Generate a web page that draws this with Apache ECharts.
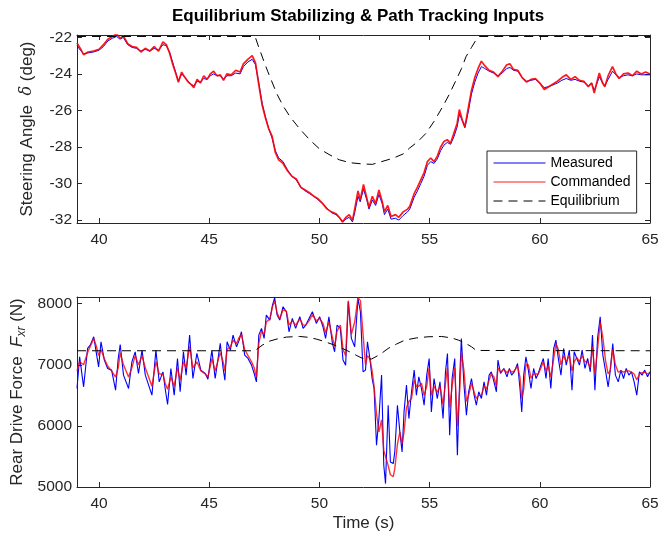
<!DOCTYPE html>
<html><head><meta charset="utf-8">
<script src="https://cdn.jsdelivr.net/npm/echarts@6/dist/echarts.min.js"></script>
<style>html,body{margin:0;padding:0;background:#fff}#c{width:667px;height:538px}</style>
</head><body><div id="c"></div><script>
// ---------- data ----------
const xTicks = [40, 45, 50, 55, 60, 65];
const topTicks = [-32, -30, -28, -26, -24, -22];
const botTicks = [5000, 6000, 7000, 8000];
const seriesNames = ['Measured', 'Commanded', 'Equilibrium'];

const topT = [
39.00,39.15,39.30,39.50,39.75,40.00,40.20,40.40,40.60,40.80,
40.95,41.10,41.30,41.50,41.70,41.90,42.10,42.30,42.50,42.70,
42.90,43.05,43.20,43.35,43.50,43.60,43.75,43.90,44.05,44.20,
44.30,44.45,44.60,44.75,44.90,45.05,45.20,45.35,45.50,45.65,
45.80,46.00,46.20,46.40,46.55,46.75,46.95,47.10,47.25,47.40,
47.55,47.70,47.85,48.00,48.15,48.35,48.55,48.75,48.95,49.15,
49.35,49.55,49.75,49.95,50.15,50.35,50.55,50.75,50.90,51.05,
51.20,51.35,51.50,51.60,51.75,51.85,52.00,52.15,52.25,52.40,
52.55,52.70,52.85,52.95,53.10,53.25,53.45,53.60,53.80,54.00,
54.10,54.30,54.45,54.60,54.75,54.90,55.05,55.20,55.35,55.50,
55.65,55.80,55.95,56.10,56.25,56.35,56.50,56.60,56.75,56.90,
57.05,57.20,57.35,57.50,57.70,57.90,58.10,58.30,58.50,58.65,
58.80,59.00,59.20,59.40,59.60,59.80,60.00,60.20,60.40,60.60,
60.80,61.00,61.20,61.40,61.60,61.80,62.00,62.20,62.35,62.47,
62.60,62.70,62.85,62.95,63.10,63.30,63.45,63.60,63.80,64.00,
64.20,64.40,64.60,64.80,65.00];
const topCommanded = [
-22.30,-22.60,-22.95,-22.80,-22.75,-22.65,-22.40,-22.10,-21.95,-21.80,
-22.05,-21.90,-22.35,-22.50,-22.55,-22.80,-22.60,-22.75,-22.50,-22.75,
-22.25,-22.40,-22.85,-23.50,-24.05,-24.45,-23.90,-24.20,-24.45,-24.60,
-24.75,-24.30,-24.50,-24.10,-24.30,-24.00,-23.85,-24.10,-24.05,-24.35,
-24.00,-24.05,-23.80,-23.90,-23.45,-23.20,-23.00,-23.40,-24.60,-25.70,
-26.40,-27.00,-27.40,-28.30,-28.70,-28.90,-29.30,-29.60,-29.75,-30.20,
-30.35,-30.50,-30.70,-30.85,-31.10,-31.40,-31.55,-31.65,-31.85,-32.10,
-31.85,-31.70,-32.00,-31.40,-30.40,-30.90,-30.05,-30.80,-31.30,-30.70,
-31.10,-30.35,-31.00,-31.55,-31.20,-31.80,-31.70,-31.85,-31.55,-31.40,
-31.25,-30.55,-30.20,-29.80,-29.40,-28.80,-28.60,-28.80,-28.50,-28.00,
-27.70,-27.60,-27.80,-27.25,-26.70,-25.95,-26.60,-26.90,-25.90,-24.90,
-24.20,-23.70,-23.30,-23.55,-23.80,-23.90,-24.15,-23.85,-23.50,-23.45,
-23.75,-23.80,-24.20,-24.45,-24.30,-24.25,-24.50,-24.85,-24.70,-24.55,
-24.40,-24.20,-24.05,-24.30,-24.15,-24.35,-24.40,-24.70,-24.50,-25.05,
-24.40,-23.95,-24.50,-24.70,-24.10,-23.60,-24.00,-24.25,-24.00,-23.95,
-24.10,-23.85,-24.00,-23.90,-24.00];
const topMeasured = [
-22.45,-22.70,-22.90,-22.85,-22.80,-22.70,-22.50,-22.20,-22.05,-21.95,
-22.10,-22.00,-22.40,-22.55,-22.60,-22.75,-22.65,-22.75,-22.60,-22.70,
-22.40,-22.45,-22.80,-23.40,-24.00,-24.40,-24.00,-24.20,-24.40,-24.60,
-24.65,-24.40,-24.45,-24.25,-24.30,-24.10,-24.00,-24.10,-24.10,-24.30,
-24.10,-24.10,-23.95,-24.00,-23.60,-23.35,-23.20,-23.50,-24.50,-25.60,
-26.35,-27.00,-27.50,-28.20,-28.60,-28.80,-29.25,-29.60,-29.80,-30.20,
-30.40,-30.55,-30.70,-30.90,-31.10,-31.35,-31.60,-31.70,-31.85,-32.10,
-31.95,-31.85,-32.10,-31.60,-30.70,-31.00,-30.30,-30.90,-31.40,-30.90,
-31.20,-30.60,-31.10,-31.70,-31.40,-31.95,-31.90,-32.00,-31.75,-31.55,
-31.40,-30.75,-30.40,-30.00,-29.60,-29.00,-28.80,-28.90,-28.65,-28.20,
-27.90,-27.75,-27.85,-27.45,-26.90,-26.20,-26.60,-26.95,-26.10,-25.10,
-24.45,-23.95,-23.60,-23.70,-23.85,-23.95,-24.10,-23.95,-23.70,-23.65,
-23.80,-23.85,-24.20,-24.40,-24.35,-24.30,-24.50,-24.75,-24.70,-24.60,
-24.50,-24.35,-24.25,-24.35,-24.30,-24.40,-24.45,-24.65,-24.50,-24.90,
-24.50,-24.15,-24.50,-24.65,-24.30,-23.85,-24.05,-24.20,-24.10,-24.05,
-24.10,-24.00,-24.05,-24.05,-24.05];
const topEqT = [39, 47.08, 47.25, 47.46, 47.65, 48.06, 48.35, 48.67, 49.1, 49.57, 50.0, 50.48, 50.9, 51.38, 51.99, 52.4, 53.33, 53.8, 54.08, 54.45, 54.83, 55.2, 55.59, 55.9, 56.2, 56.45, 56.65, 56.9, 57.1, 57.25, 65];
const topEq = [-21.95, -21.95, -22.55, -23.24, -23.85, -25.07, -25.75, -26.35, -27.0, -27.62, -28.1, -28.44, -28.7, -28.86, -28.93, -28.95, -28.62, -28.38, -28.07, -27.72, -27.26, -26.6, -25.8, -25.1, -24.34, -23.7, -23.06, -22.55, -22.15, -21.95, -21.95];

const botT = [
39.00,39.12,39.30,39.48,39.60,39.76,39.88,39.98,40.09,40.24,
40.39,40.57,40.75,40.87,40.96,41.11,41.34,41.49,41.64,41.79,
41.95,42.10,42.25,42.40,42.58,42.73,42.90,43.00,43.11,43.26,
43.41,43.56,43.68,43.83,43.95,44.11,44.26,44.44,44.62,44.82,
44.94,45.12,45.27,45.50,45.63,45.71,45.81,45.96,46.08,46.24,
46.36,46.46,46.61,46.76,46.92,47.04,47.14,47.25,47.37,47.49,
47.59,47.75,47.87,47.97,48.08,48.20,48.35,48.50,48.62,48.77,
48.92,49.11,49.26,49.38,49.53,49.68,49.86,50.01,50.16,50.28,
50.43,50.59,50.69,50.80,50.95,51.07,51.19,51.31,51.45,51.60,
51.75,51.86,51.98,52.09,52.18,52.29,52.39,52.48,52.59,52.70,
52.82,52.92,53.00,53.12,53.22,53.35,53.42,53.54,53.65,53.75,
53.84,53.95,54.06,54.18,54.30,54.40,54.51,54.63,54.75,54.87,
54.98,55.08,55.20,55.35,55.47,55.61,55.72,55.81,55.91,56.02,
56.14,56.26,56.37,56.44,56.56,56.67,56.77,56.90,57.02,57.12,
57.23,57.35,57.47,57.58,57.70,57.80,57.92,58.03,58.10,58.22,
58.37,58.51,58.62,58.72,58.84,58.99,59.10,59.18,59.27,59.37,
59.48,59.60,59.72,59.83,59.93,60.05,60.16,60.28,60.38,60.50,
60.63,60.73,60.84,60.96,61.08,61.20,61.34,61.46,61.56,61.68,
61.80,61.92,62.05,62.17,62.29,62.39,62.50,62.62,62.74,62.86,
62.99,63.10,63.19,63.31,63.43,63.56,63.68,63.80,63.92,64.04,
64.16,64.28,64.40,64.52,64.64,64.76,64.89,65.00];
const botMeasured = [
6612,7131,6640,7268,7322,7459,7186,6967,7377,7077,
6940,6913,6585,7104,7333,6831,6612,7049,7213,6858,
7240,6831,6667,6503,7240,6721,6885,6612,6350,6940,
6503,7104,6558,7213,6831,7486,6776,7186,6913,6858,
6765,7240,6776,7350,6940,6749,7377,7240,7486,7295,
7404,7541,7159,7104,6995,6858,6721,7486,7596,7432,
7814,7732,7978,8098,7814,7732,7951,7869,7541,7759,
7596,7787,7596,7650,7759,7869,7678,7787,7623,7432,
7787,7350,7213,7650,7596,7077,6995,8033,7432,7295,
8087,7869,6885,6913,7377,7104,6776,6612,5684,6120,
6831,5356,5056,6339,5410,5383,5574,6339,5902,5574,
6230,6667,6120,6558,6913,6503,6803,6612,6339,6831,
7104,6230,6776,6448,6721,6120,6885,7186,5847,6776,
7104,5520,6831,7432,6667,6175,6558,6776,6503,6339,
6558,6448,6721,6503,6831,6885,6721,6558,7077,6858,
6940,6803,6940,6831,6885,7022,6612,6230,6831,7131,
6913,6612,6940,6776,6858,6995,7104,6776,7104,6612,
7268,7404,7104,6831,7268,6995,7240,6585,7213,7104,
6995,7240,6940,7104,6885,7486,6585,7432,7787,7159,
6885,6640,6885,7350,6831,6721,6913,6776,6940,6831,
6885,6721,6503,6885,6831,6913,6803,6885];
const botCommanded = [
6900,7050,7000,7200,7300,7430,7300,7150,7250,7100,
6980,6900,6800,6950,7200,7000,6800,6950,7150,7000,
7150,6950,6800,6650,7050,6850,6850,6700,6600,6800,
6650,6950,6750,7050,6950,7300,6950,7050,6900,6850,
6800,7100,6900,7200,7050,6900,7250,7300,7400,7350,
7450,7500,7250,7150,7050,6950,6800,7350,7550,7500,
7700,7750,7950,8050,7850,7750,7900,7880,7650,7720,
7650,7750,7650,7650,7720,7820,7720,7760,7680,7520,
7700,7450,7300,7550,7650,7250,7150,8050,7500,7700,
8100,8050,7500,7000,7150,7100,6900,6650,6200,5900,
6100,5600,5500,5350,5200,5170,5300,5700,5900,5700,
5900,6300,6400,6450,6750,6650,6650,6700,6500,6650,
6950,6500,6650,6550,6650,6350,6700,6950,6300,6650,
6950,6000,6600,7200,6900,6400,6500,6700,6550,6450,
6500,6500,6650,6600,6750,6850,6800,6650,6950,6880,
6930,6870,6920,6880,6900,6980,6800,6450,6600,7000,
7000,6780,6850,6850,6850,6950,7050,6900,6980,6800,
7100,7350,7250,7000,7150,7050,7150,6900,7050,7120,
7050,7150,7050,7050,6950,7300,6850,7250,7700,7450,
7050,6850,6900,7250,7000,6880,6900,6880,6900,6900,
6880,6850,6750,6850,6870,6880,6850,6870];
const botEqT = [39, 47.07, 47.4, 47.75, 48.1, 48.5, 49.1, 49.5, 49.86, 50.2, 50.6, 51.0, 51.37, 51.7, 51.97, 52.37, 52.75, 53.12, 53.5, 53.88, 54.4, 54.93, 55.54, 56.0, 56.3, 56.6, 56.9, 57.12, 65];
const botEq = [7230, 7230, 7320, 7389, 7425, 7454, 7464, 7450, 7421, 7385, 7333, 7275, 7213, 7150, 7103, 7095, 7170, 7268, 7340, 7405, 7440, 7459, 7464, 7440, 7405, 7360, 7295, 7235, 7230];

// ---------- chart ----------
const FF = "'Liberation Sans', Arial, Helvetica, sans-serif";
const AX = '#262626';
const pairs = (xs, ys) => xs.map((x, i) => [x, ys[i]]);

function xAx(gi, pos, lbl) {
  return { type: 'value', gridIndex: gi, position: pos, min: 39, max: 65,
    axisLine: { show: true, onZero: false, lineStyle: { color: AX, width: 1 } },
    axisTick: { show: true, inside: true, length: 5, customValues: xTicks, lineStyle: { color: AX } },
    axisLabel: { show: lbl, customValues: xTicks, color: AX, fontSize: 15.5, fontFamily: FF, margin: 9,
      formatter: v => String(v) },
    splitLine: { show: false } };
}
function yAx(gi, pos, lbl, mn, mx, ticks) {
  return { type: 'value', gridIndex: gi, position: pos, min: mn, max: mx,
    axisLine: { show: true, onZero: false, lineStyle: { color: AX, width: 1 } },
    axisTick: { show: true, inside: true, length: 5, customValues: ticks, lineStyle: { color: AX } },
    axisLabel: { show: lbl, customValues: ticks, color: AX, fontSize: 15.5, fontFamily: FF, margin: 5,
      formatter: v => String(v) },
    splitLine: { show: false } };
}
function ln(name, xi, yi, data, color, w, dash, z, op) {
  return { name, type: 'line', xAxisIndex: xi, yAxisIndex: yi, data, symbol: 'none',
    showSymbol: false, animation: false, z: z,
    lineStyle: { color, width: w, type: dash || 'solid', opacity: op == null ? 1 : op },
    itemStyle: { color } };
}

const chart = echarts.init(document.getElementById('c'), null, { renderer: 'canvas' });
chart.setOption({
  backgroundColor: '#fff',
  animation: false,
  title: { text: 'Equilibrium Stabilizing & Path Tracking Inputs', left: 172, top: 8, padding: 0,
    textStyle: { fontFamily: FF, fontSize: 17, fontWeight: 'bold', color: '#000' } },
  grid: [
    { left: 77, top: 35, width: 573, height: 188, containLabel: false },
    { left: 77, top: 297, width: 573, height: 190, containLabel: false }
  ],
  xAxis: [xAx(0, 'bottom', true), xAx(0, 'top', false), xAx(1, 'bottom', true), xAx(1, 'top', false)],
  yAxis: [yAx(0, 'left', true, -32.16, -21.87, topTicks), yAx(0, 'right', false, -32.16, -21.87, topTicks),
          yAx(1, 'left', true, 5000, 8110, botTicks), yAx(1, 'right', false, 5000, 8110, botTicks)],
  legend: { data: seriesNames, orient: 'vertical', left: 487, top: 151, itemWidth: 52, itemHeight: 14, itemGap: 5,
    padding: [5, 6, 5, 6], borderColor: AX, borderWidth: 1, backgroundColor: '#fff', borderRadius: 0,
    itemStyle: { opacity: 0, borderWidth: 0 },
    lineStyle: { width: 1 },
    textStyle: { fontFamily: FF, fontSize: 14, color: '#000' }, selectedMode: false },
  series: [
    ln(seriesNames[0], 0, 0, pairs(topT, topMeasured), '#0000ff', 1, null, 2),
    ln(seriesNames[1], 0, 0, pairs(topT, topCommanded), '#ff0000', 1.7, null, 3, 0.9),
    ln(seriesNames[2], 0, 0, pairs(topEqT, topEq), '#000000', 1, [9, 6], 4),
    ln(seriesNames[0], 2, 2, pairs(botT, botMeasured), '#0000ff', 1.1, null, 2),
    ln(seriesNames[1], 2, 2, pairs(botT, botCommanded), '#ff0000', 1.4, null, 3, 0.8),
    ln(seriesNames[2], 2, 2, pairs(botEqT, botEq), '#000000', 1, [9, 6], 4)
  ],
  graphic: [
    { type: 'text', x: 27, y: 129, rotation: Math.PI / 2,
      style: { text: '{n|Steering Angle  }{i|δ}{n| (deg)}', align: 'center', verticalAlign: 'middle',
        fill: AX, fontFamily: FF, fontSize: 17,
        rich: { n: { fontFamily: FF, fontSize: 17, color: AX },
                i: { fontFamily: "'DejaVu Serif', serif", fontStyle: 'italic', fontSize: 16, color: AX } } } },
    { type: 'text', x: 17, y: 392, rotation: Math.PI / 2,
      style: { text: '{n|Rear Drive Force  }{f|F}{s|xr}{n| (N)}', align: 'center', verticalAlign: 'middle',
        fill: AX, fontFamily: FF, fontSize: 17,
        rich: { n: { fontFamily: FF, fontSize: 17, color: AX, lineHeight: 22 },
                f: { fontFamily: FF, fontStyle: 'italic', fontSize: 17, color: AX, lineHeight: 22 },
                s: { fontFamily: FF, fontStyle: 'italic', fontSize: 12, color: AX, lineHeight: 14, verticalAlign: 'bottom' } } } },
    { type: 'text', x: 363.5, y: 523,
      style: { text: 'Time (s)', align: 'center', verticalAlign: 'middle', fill: AX, fontFamily: FF, fontSize: 17 } }
  ]
});
</script></body></html>
